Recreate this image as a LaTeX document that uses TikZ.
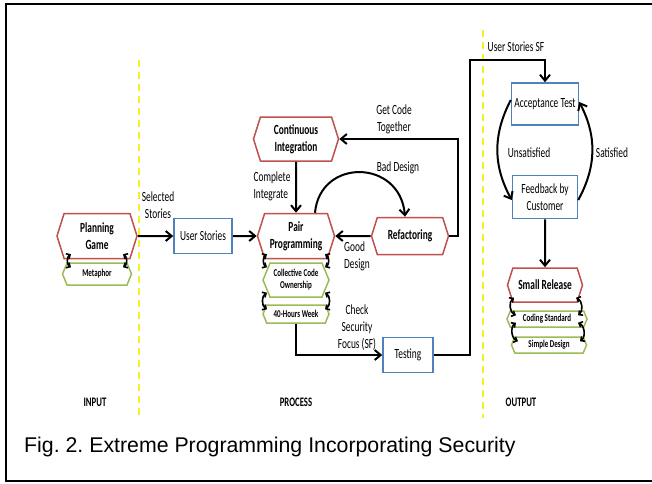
\documentclass[tikz,border=0pt]{standalone}
\usepackage{fontspec}
\setmainfont{Carlito}[FakeStretch=0.67]
\newfontfamily\capfont{Liberation Sans}
\usetikzlibrary{shapes.symbols,arrows.meta}
\definecolor{hexred}{RGB}{192,80,77}
\definecolor{hexgreen}{RGB}{155,187,89}
\definecolor{boxblue}{RGB}{79,129,189}
\definecolor{divyellow}{RGB}{245,240,30}
\frenchspacing

\begin{document}
\begin{tikzpicture}[x=1pt,y=-1pt,
  redhex/.style={signal, signal to=east and west, signal pointer angle=145, draw=hexred,
    line width=1.5pt, fill=white, align=center, inner sep=1pt, font=\fontsize{14}{17}\selectfont\bfseries},
  greenhex/.style={signal, signal to=east and west, signal pointer angle=135, draw=hexgreen,
    line width=1.5pt, fill=white, align=center, inner sep=1pt, font=\fontsize{10.5}{12}\selectfont\bfseries},
  bluebox/.style={draw=boxblue, line width=1.5pt, fill=white, align=center, inner sep=1pt,
    font=\fontsize{14}{17}\selectfont},
  lbl/.style={align=center, inner sep=0pt, font=\fontsize{14}{17}\selectfont},
  flow/.style={line width=2pt, -{Straight Barb[length=6pt,width=10pt]}},
  link/.style={line width=1.6pt, {Straight Barb[length=3pt,width=6pt]}-{Straight Barb[length=3pt,width=6pt]}},
  divider/.style={draw=divyellow, line width=2pt, dash pattern=on 7pt off 5pt}]
  \useasboundingbox (0,0) rectangle (652,483);
  \draw[line width=2.5pt] (652,4) -- (6,4) -- (6,481) -- (652,481);
  \draw[divider] (139,60) -- (139,418);
  \draw[divider] (483,30) -- (483,418);

  \node[redhex, minimum width=80pt, minimum height=45pt] (pg) at (97,236) {Planning\\Game};
  \node[greenhex, minimum width=69pt, minimum height=22pt] (mt) at (97,274) {Metaphor};
  \node[bluebox, minimum width=58pt, minimum height=35pt] (us) at (203,236) {User Stories};
  \node[redhex, minimum width=77pt, minimum height=45pt] (pp) at (296,236) {Pair\\Programming};
  \node[greenhex, minimum width=66pt, minimum height=34pt] (cc) at (296,280) {Collective Code\\Ownership};
  \node[greenhex, minimum width=66pt, minimum height=18pt] (wk) at (296,314) {40-Hours Week};
  \node[redhex, minimum width=85pt, minimum height=44pt] (ci) at (296,139) {Continuous\\Integration};
  \node[redhex, minimum width=77pt, minimum height=37pt] (rf) at (410,236) {Refactoring};
  \node[bluebox, minimum width=50pt, minimum height=35pt] (ts) at (408,355) {Testing};
  \node[bluebox, minimum width=67pt, minimum height=42pt] (at) at (545,104) {Acceptance Test};
  \node[bluebox, minimum width=65pt, minimum height=43pt] (fb) at (545,197) {Feedback by\\Customer};
  \node[redhex, minimum width=75pt, minimum height=34pt] (sr) at (545,285) {Small Release};
  \node[greenhex, minimum width=80pt, minimum height=16pt] (cs) at (547,319) {Coding Standard};
  \node[greenhex, minimum width=75pt, minimum height=16pt] (sd) at (549,345) {Simple Design};

  \node[lbl] (lsel) at (158,205) {Selected\\Stories};
  \node[lbl, align=left] (lcmp) at (272,186) {Complete\\Integrate};
  \node[lbl] (lget) at (394,119) {Get Code\\Together};
  \node[lbl] (lbad) at (398,168) {Bad Design};
  \node[lbl, align=left] (lgood) at (357,256) {Good\\Design};
  \node[lbl] (lchk) at (357,328) {Check\\Security\\Focus (SF)};
  \node[lbl] (lsf) at (516,47) {User Stories SF};
  \node[lbl] (luns) at (529,153) {Unsatisfied};
  \node[lbl] (lsat) at (612,153) {Satisfied};
  \node[lbl, font=\fontsize{13}{15}\selectfont\bfseries] (lin) at (95,402) {INPUT};
  \node[lbl, font=\fontsize{13}{15}\selectfont\bfseries] (lpr) at (296,402) {PROCESS};
  \node[lbl, font=\fontsize{13}{15}\selectfont\bfseries] (lout) at (521,402) {OUTPUT};
  \node[anchor=west, inner sep=0pt, font=\capfont\fontsize{21.3}{24}\selectfont] (cap) at (24,447)
    {Fig. 2. Extreme Programming Incorporating Security};

  \coordinate (sfcorner) at (470,60);
  \draw[flow] (pg) -- (us);
  \draw[flow] (us) -- (pp);
  \draw[flow] (ci) -- (pp);
  \draw[flow] (rf) -- (pp);
  \draw[flow] ([xshift=19pt]pp.north) .. controls +(5,-55) and +(-5,-58) .. ([xshift=-5pt]rf.north);
  \draw[flow] (rf.east) -- ++(9,0) |- (ci.east);
  \draw[flow] (wk.south) |- (ts.west);
  \draw[flow] (ts.east) -| (sfcorner) -| (at.north);
  \draw[flow] ([yshift=4pt]at.west) to[bend right=28] ([yshift=-3pt]fb.west);
  \draw[flow] ([yshift=-3pt]fb.east) to[bend right=28] ([yshift=2pt]at.east);
  \draw[flow] (fb) -- (sr);
  \foreach \a/\b/\d in {pg/mt/26, pp/cc/29, cc/wk/29, sr/cs/31, cs/sd/31} {
    \draw[link] ([xshift=-\d,yshift=5pt]\a.south) to[bend right=60] ([xshift=-\d,yshift=-5pt]\b.north);
    \draw[link] ([xshift=\d,yshift=5pt]\a.south) to[bend left=60] ([xshift=\d,yshift=-5pt]\b.north);
  }
\end{tikzpicture}
\end{document}
